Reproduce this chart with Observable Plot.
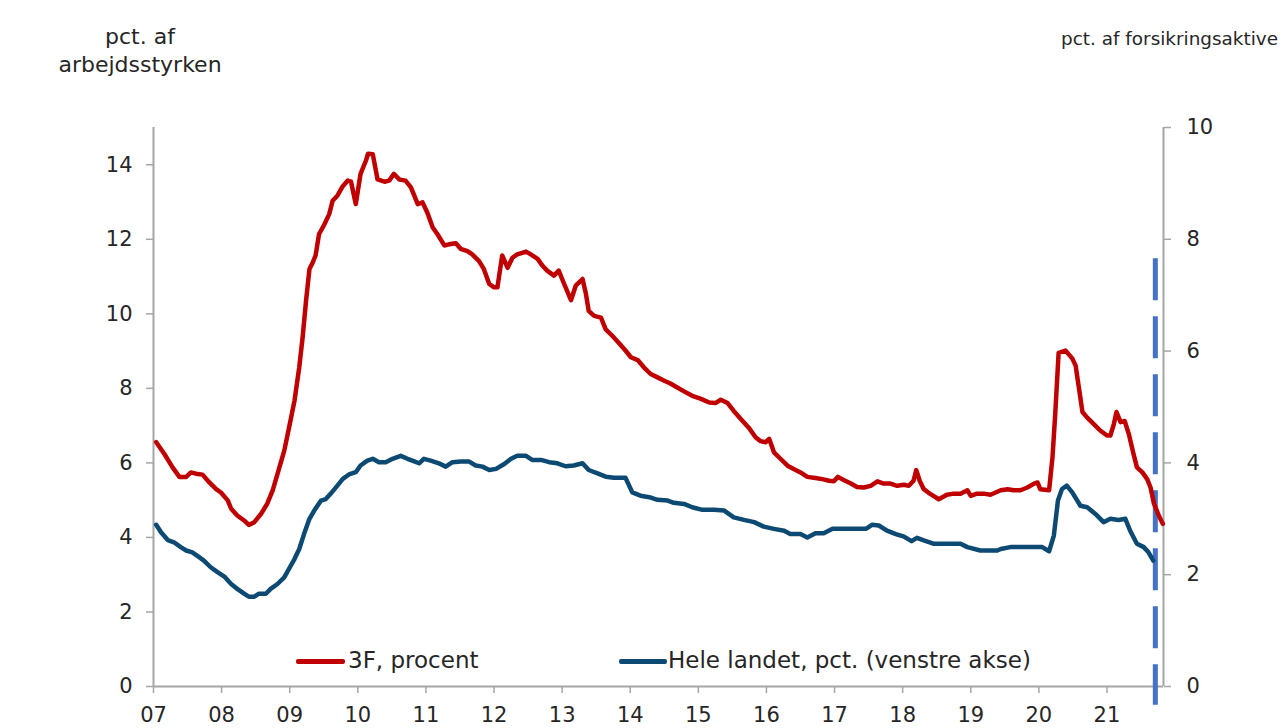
<!DOCTYPE html>
<html><head><meta charset="utf-8">
<script src="https://cdn.jsdelivr.net/npm/d3@7"></script>
<script src="https://cdn.jsdelivr.net/npm/@observablehq/plot@0.6"></script>
<style>
body{margin:0;background:#fff;font-family:"DejaVu Sans",Verdana,sans-serif;color:#262626}
#wrap{position:relative;width:1285px;height:728px;overflow:hidden;background:#fff}
#wrap svg{position:absolute;left:0;top:0}
.lbl{position:absolute;white-space:nowrap;color:#262626}
.sw{position:absolute;height:5px;border-radius:2px}
</style></head><body><div id="wrap"></div>
<script>
// Tick values
const yearTicks = [2007,2008,2009,2010,2011,2012,2013,2014,2015,2016,2017,2018,2019,2020,2021];
const leftTicks = [0,2,4,6,8,10,12,14];
const rightTicks = [0,2,4,6,8,10];
const cutoffYear = 2021.71;

// 3F, procent (right axis, pct. af forsikringsaktive): [year, value]
const series3F = [[2007.04,4.37],[2007.16,4.16],[2007.28,3.92],[2007.38,3.75],[2007.48,3.75],[2007.55,3.83],[2007.65,3.80],[2007.72,3.79],[2007.82,3.65],[2007.92,3.53],[2007.99,3.47],[2008.09,3.33],[2008.14,3.18],[2008.23,3.06],[2008.33,2.97],[2008.40,2.89],[2008.48,2.94],[2008.58,3.09],[2008.67,3.27],[2008.75,3.51],[2008.82,3.80],[2008.92,4.22],[2008.99,4.63],[2009.07,5.11],[2009.14,5.71],[2009.19,6.25],[2009.24,6.90],[2009.29,7.47],[2009.34,7.59],[2009.38,7.71],[2009.43,8.09],[2009.51,8.27],[2009.58,8.45],[2009.63,8.69],[2009.70,8.78],[2009.78,8.95],[2009.85,9.05],[2009.90,9.03],[2009.97,8.63],[2010.04,9.17],[2010.12,9.41],[2010.15,9.53],[2010.22,9.52],[2010.29,9.07],[2010.39,9.03],[2010.46,9.05],[2010.53,9.17],[2010.61,9.07],[2010.70,9.05],[2010.78,8.93],[2010.88,8.63],[2010.95,8.66],[2011.02,8.48],[2011.10,8.21],[2011.17,8.09],[2011.27,7.89],[2011.34,7.91],[2011.44,7.93],[2011.51,7.83],[2011.61,7.79],[2011.68,7.73],[2011.78,7.61],[2011.85,7.47],[2011.93,7.20],[2012.00,7.14],[2012.05,7.14],[2012.12,7.71],[2012.20,7.49],[2012.27,7.67],[2012.34,7.73],[2012.39,7.75],[2012.47,7.78],[2012.54,7.73],[2012.64,7.65],[2012.71,7.53],[2012.78,7.44],[2012.88,7.35],[2012.95,7.44],[2013.03,7.20],[2013.13,6.91],[2013.20,7.17],[2013.30,7.29],[2013.35,7.02],[2013.39,6.72],[2013.47,6.63],[2013.57,6.60],[2013.64,6.39],[2013.74,6.27],[2013.83,6.15],[2013.93,6.01],[2014.01,5.89],[2014.11,5.84],[2014.20,5.71],[2014.30,5.59],[2014.40,5.53],[2014.50,5.47],[2014.59,5.42],[2014.69,5.35],[2014.79,5.28],[2014.91,5.20],[2015.03,5.15],[2015.16,5.08],[2015.25,5.07],[2015.33,5.13],[2015.43,5.07],[2015.52,4.93],[2015.62,4.79],[2015.74,4.63],[2015.84,4.46],[2015.91,4.39],[2015.99,4.37],[2016.04,4.43],[2016.11,4.19],[2016.21,4.07],[2016.31,3.95],[2016.40,3.89],[2016.50,3.83],[2016.60,3.75],[2016.72,3.73],[2016.82,3.71],[2016.92,3.68],[2016.99,3.67],[2017.05,3.75],[2017.14,3.69],[2017.24,3.63],[2017.33,3.57],[2017.43,3.56],[2017.53,3.59],[2017.63,3.67],[2017.72,3.63],[2017.82,3.63],[2017.92,3.59],[2018.02,3.61],[2018.09,3.59],[2018.16,3.68],[2018.20,3.87],[2018.25,3.68],[2018.31,3.53],[2018.41,3.44],[2018.53,3.35],[2018.65,3.43],[2018.75,3.45],[2018.85,3.45],[2018.95,3.51],[2019.00,3.41],[2019.09,3.45],[2019.19,3.45],[2019.29,3.43],[2019.44,3.51],[2019.54,3.53],[2019.63,3.51],[2019.73,3.51],[2019.83,3.56],[2019.93,3.63],[2019.98,3.65],[2020.02,3.53],[2020.15,3.51],[2020.20,4.10],[2020.24,4.87],[2020.29,5.97],[2020.39,6.01],[2020.49,5.87],[2020.54,5.74],[2020.64,4.91],[2020.71,4.81],[2020.81,4.69],[2020.90,4.58],[2021.00,4.49],[2021.05,4.49],[2021.10,4.69],[2021.14,4.91],[2021.20,4.73],[2021.26,4.75],[2021.32,4.52],[2021.39,4.16],[2021.44,3.92],[2021.52,3.83],[2021.59,3.71],[2021.64,3.56],[2021.69,3.27],[2021.76,3.06],[2021.82,2.91]];

// Hele landet, pct. (left axis, pct. af arbejdsstyrken): [year, value]
const seriesHele = [[2007.04,4.34],[2007.11,4.14],[2007.21,3.93],[2007.30,3.87],[2007.40,3.74],[2007.48,3.65],[2007.57,3.60],[2007.67,3.47],[2007.74,3.38],[2007.84,3.20],[2007.94,3.07],[2008.04,2.95],[2008.14,2.75],[2008.23,2.62],[2008.33,2.49],[2008.40,2.41],[2008.48,2.41],[2008.55,2.49],[2008.65,2.49],[2008.72,2.62],[2008.82,2.75],[2008.92,2.93],[2008.99,3.16],[2009.07,3.42],[2009.14,3.69],[2009.21,4.09],[2009.29,4.50],[2009.36,4.72],[2009.46,4.99],[2009.53,5.03],[2009.60,5.17],[2009.70,5.39],[2009.78,5.57],[2009.87,5.69],[2009.97,5.75],[2010.04,5.93],[2010.14,6.06],[2010.22,6.11],[2010.31,6.02],[2010.41,6.02],[2010.51,6.11],[2010.63,6.19],[2010.73,6.11],[2010.83,6.04],[2010.90,5.99],[2010.97,6.11],[2011.07,6.06],[2011.19,5.99],[2011.29,5.90],[2011.39,6.02],[2011.51,6.04],[2011.63,6.04],[2011.73,5.93],[2011.83,5.90],[2011.93,5.81],[2012.03,5.84],[2012.15,5.97],[2012.25,6.11],[2012.34,6.19],[2012.47,6.19],[2012.56,6.08],[2012.69,6.08],[2012.81,6.02],[2012.93,5.99],[2013.05,5.91],[2013.17,5.93],[2013.30,5.99],[2013.39,5.81],[2013.52,5.72],[2013.64,5.63],[2013.76,5.60],[2013.93,5.60],[2014.03,5.21],[2014.15,5.12],[2014.28,5.08],[2014.40,5.01],[2014.55,4.99],[2014.64,4.93],[2014.79,4.90],[2014.91,4.81],[2015.06,4.74],[2015.23,4.74],[2015.38,4.72],[2015.52,4.54],[2015.67,4.47],[2015.82,4.41],[2015.96,4.29],[2016.11,4.23],[2016.26,4.18],[2016.35,4.09],[2016.50,4.09],[2016.60,4.00],[2016.72,4.11],[2016.84,4.11],[2016.97,4.23],[2017.14,4.23],[2017.28,4.23],[2017.46,4.23],[2017.55,4.34],[2017.65,4.32],[2017.77,4.18],[2017.90,4.09],[2018.02,4.02],[2018.13,3.90],[2018.21,3.99],[2018.31,3.92],[2018.46,3.83],[2018.65,3.83],[2018.85,3.83],[2018.95,3.74],[2019.14,3.65],[2019.39,3.65],[2019.44,3.69],[2019.58,3.74],[2019.83,3.74],[2020.05,3.74],[2020.15,3.63],[2020.22,4.05],[2020.28,4.99],[2020.34,5.30],[2020.41,5.39],[2020.49,5.21],[2020.61,4.85],[2020.71,4.81],[2020.83,4.63],[2020.95,4.41],[2021.05,4.50],[2021.17,4.47],[2021.27,4.50],[2021.34,4.18],[2021.44,3.83],[2021.54,3.74],[2021.61,3.60],[2021.68,3.38]];

const labels = {
  left: ["pct. af", "arbejdsstyrken"],
  right: "pct. af forsikringsaktive",
  s3F: "3F, procent",
  sHele: "Hele landet, pct. (venstre akse)"
};

const xMin = 2007, xMax = 2021.83;
const leftMax = 15, rightMax = 10, k = leftMax / rightMax;
const axisGray = "#A6A6A6", txt = "#262626";
const red = "#C00000", blue = "#0C4A74", dash = "#4472C4";

const chart = Plot.plot({
  width: 1285, height: 728,
  marginLeft: 153, marginRight: 122, marginTop: 127, marginBottom: 42,
  style: {fontFamily: '"DejaVu Sans", Verdana, sans-serif', fontSize: "20px", color: txt, background: "transparent"},
  x: {domain: [xMin, xMax]},
  y: {domain: [0, leftMax]},
  marks: [
    Plot.axisX({ticks: yearTicks, tickFormat: d => String(d).slice(2), tickSize: 7, tickPadding: 14, stroke: axisGray, strokeWidth: 1.5, fill: txt, fontSize: 21, label: null}),
    Plot.axisY({anchor: "left", ticks: leftTicks, tickFormat: d => String(d), tickSize: 7, tickPadding: 14, stroke: axisGray, strokeWidth: 1.5, fill: txt, fontSize: 21, label: null}),
    Plot.axisY({anchor: "right", ticks: rightTicks.map(v => v * k), tickFormat: d => String(Math.round(d / k)), tickSize: 7, tickPadding: 16, stroke: axisGray, strokeWidth: 1.5, fill: txt, fontSize: 21, label: null}),
    Plot.ruleX([xMin], {y1: 0, y2: leftMax, stroke: axisGray, strokeWidth: 2}),
    Plot.ruleX([xMax], {y1: 0, y2: leftMax, stroke: axisGray, strokeWidth: 2}),
    Plot.ruleY([0], {x1: xMin, x2: xMax, stroke: axisGray, strokeWidth: 2}),
    Plot.ruleX([cutoffYear], {y1: 11.48, y2: -0.5, stroke: dash, strokeWidth: 5, strokeDasharray: "42,16"}),
    Plot.line(seriesHele, {x: d => d[0], y: d => d[1], stroke: blue, strokeWidth: 4.5, strokeLinejoin: "round"}),
    Plot.line(series3F, {x: d => d[0], y: d => d[1] * k, stroke: red, strokeWidth: 4.5, strokeLinejoin: "round"})
  ]
});

const wrap = document.getElementById("wrap");
wrap.appendChild(chart);

function addLabel(text, css) {
  const d = document.createElement("div");
  d.className = "lbl";
  d.textContent = text;
  Object.assign(d.style, css);
  wrap.appendChild(d);
  return d;
}
function addSwatch(color, left, width, top) {
  const d = document.createElement("div");
  d.className = "sw";
  Object.assign(d.style, {background: color, left: left + "px", width: width + "px", top: top + "px"});
  wrap.appendChild(d);
}
const lt = addLabel("", {left: "40px", top: "23px", width: "200px", textAlign: "center", fontSize: "22px", lineHeight: "28px"});
labels.left.forEach(s => { const sp = document.createElement("div"); sp.textContent = s; lt.appendChild(sp); });
addLabel(labels.right, {right: "7px", top: "28px", fontSize: "18.4px", lineHeight: "22px"});
addSwatch(red, 296, 49, 659);
addLabel(labels.s3F, {left: "348px", top: "646px", fontSize: "23px", lineHeight: "28px"});
addSwatch(blue, 619, 48, 659);
addLabel(labels.sHele, {left: "668px", top: "646px", fontSize: "23px", lineHeight: "28px"});
</script></body></html>
